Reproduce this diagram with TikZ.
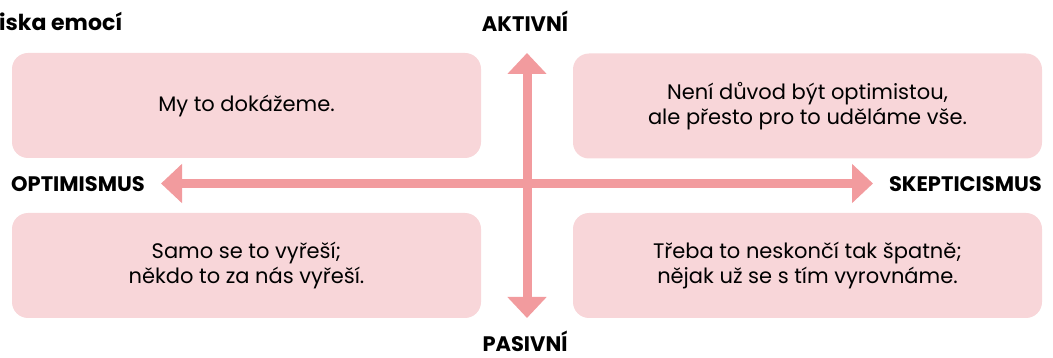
\documentclass[tikz,border=0pt]{standalone}
\usepackage{fontspec}
\setmainfont{Poppins}
\usetikzlibrary{arrows.meta}

\definecolor{boxpink}{RGB}{248,214,217}
\definecolor{axispink}{RGB}{242,155,158}

\tikzset{
  quadbox/.style={fill=boxpink, rounded corners=16pt, minimum width=469pt, minimum height=105pt,
    align=center, inner sep=0pt, font=\fontsize{21}{25.5}\selectfont},
  axislabel/.style={font=\bfseries\fontsize{21}{24}\selectfont, inner sep=0pt},
  axisarrow/.style={draw=axispink, line width=9pt,
    {Triangle[width=38pt,length=21pt]}-{Triangle[width=38pt,length=21pt]}}
}

\begin{document}
\begin{tikzpicture}[x=1pt,y=-1pt]
\useasboundingbox (0,0) rectangle (1053,358);

% Quadrant boxes
\node[quadbox] (aktopt) at (246.5,105.5) {My to dokážeme.};
\node[quadbox] (aktskep) at (807.5,106) {Není důvod být optimistou,\\ale přesto pro to uděláme vše.};
\node[quadbox] (pasopt) at (246.5,265.5) {Samo se to vyřeší;\\někdo to za nás vyřeší.};
\node[quadbox] (passkep) at (807.5,265.5) {Třeba to neskončí tak špatně;\\nějak už se s tím vyrovnáme.};

% Axis ends
\coordinate (top) at (527,53);
\coordinate (bottom) at (527,318);
\coordinate (left) at (161,183.5);
\coordinate (right) at (873,183.5);

% Axes
\draw[axisarrow] (bottom) -- (top);
\draw[axisarrow] (right) -- (left);

% Text Node
\node[axislabel, anchor=base west] (title) at (-1,31) {\fontsize{22}{26}\selectfont iska emocí};
% Text Node
\node[axislabel, anchor=base] (aktivni) at (525,32) {AKTIVNÍ};
% Text Node
\node[axislabel, anchor=base] (pasivni) at (525,352) {PASIVNÍ};
% Text Node
\node[axislabel, anchor=west] (optimismus) at (11,184) {OPTIMISMUS};
% Text Node
\node[axislabel, anchor=east] (skepticismus) at (1042,184) {SKEPTICISMUS};

\end{tikzpicture}
\end{document}
